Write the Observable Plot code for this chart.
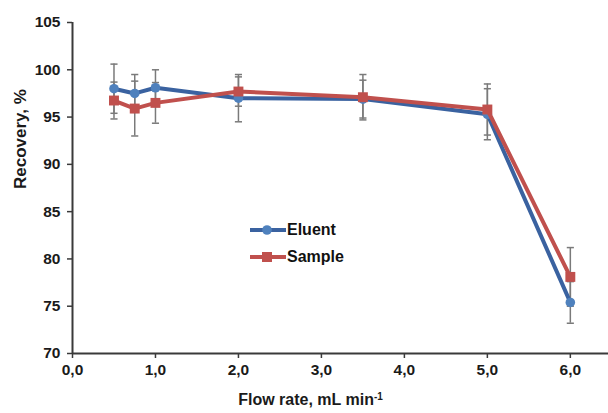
<!DOCTYPE html>
<html>
<head>
<meta charset="utf-8">
<script src="https://cdn.jsdelivr.net/npm/d3@7"></script>
<script src="https://cdn.jsdelivr.net/npm/@observablehq/plot@0.6"></script>
<style>
  html, body { margin: 0; padding: 0; background: #fff; }
  #wrap { position: relative; width: 608px; height: 413px; font-family: "Liberation Sans", Arial, sans-serif; }
  #legend { position: absolute; left: 250px; top: 216px; font-weight: bold; font-size: 16px; color: #111; }
  #legend .row { display: flex; align-items: center; height: 27px; }
  #legend svg { margin-right: 1px; }
</style>
</head>
<body>
<div id="wrap"><div id="chart"></div><div id="legend"></div></div>
<script>
const flowRate = [0.5, 0.75, 1.0, 2.0, 3.5, 5.0, 6.0];
const eluent = [98.0, 97.5, 98.1, 97.0, 96.9, 95.3, 75.4];
const eluentErr = [2.6, 2.0, 1.9, 2.5, 2.0, 2.7, 2.2];
const sample = [96.75, 95.9, 96.5, 97.7, 97.1, 95.8, 78.1];
const sampleErr = [1.95, 2.9, 2.15, 1.55, 2.4, 2.7, 3.1];
const xTicks = [0, 1, 2, 3, 4, 5, 6];
const yTicks = [70, 75, 80, 85, 90, 95, 100, 105];
const seriesNames = ["Eluent", "Sample"];
const lineColors = ["#3a62a0", "#c0504d"];
const markerColors = ["#4f81bd", "#c0504d"];

const rows = [];
flowRate.forEach((x, i) => {
  rows.push({series: "Eluent", x, y: eluent[i], e: eluentErr[i]});
  rows.push({series: "Sample", x, y: sample[i], e: sampleErr[i]});
});
const el = rows.filter(d => d.series === "Eluent");
const sa = rows.filter(d => d.series === "Sample");
const cap = 0.043;
const errColor = "#7a7a7a";
const axisColor = "#3a3a3a";
const fmtX = d => d.toFixed(1).replace(".", ",");

const chart = Plot.plot({
  width: 608,
  height: 413,
  marginLeft: 72,
  marginRight: 0,
  marginTop: 22,
  marginBottom: 60,
  style: {fontFamily: "Liberation Sans, Arial, sans-serif", fontSize: "15.5px", fontWeight: "bold", color: "#1a1a1a", background: "#fff"},
  x: {domain: [0, 6.46], label: null},
  y: {domain: [70, 105], label: null},
  marks: [
    Plot.axisX({ticks: xTicks, tickFormat: fmtX, tickSize: 5, tickPadding: 5, stroke: axisColor, strokeWidth: 1.5, fill: "#1a1a1a", label: null}),
    Plot.axisY({ticks: yTicks, tickSize: 5, tickPadding: 7, stroke: axisColor, strokeWidth: 1.5, fill: "#1a1a1a", label: null}),
    Plot.ruleY([70], {stroke: axisColor, strokeWidth: 2}),
    Plot.ruleX([0], {stroke: axisColor, strokeWidth: 2}),
    // error bars
    Plot.ruleX(rows, {x: "x", y1: d => d.y - d.e, y2: d => d.y + d.e, stroke: errColor, strokeWidth: 1.5}),
    Plot.link(rows, {x1: d => d.x - cap, x2: d => d.x + cap, y1: d => d.y + d.e, y2: d => d.y + d.e, stroke: errColor, strokeWidth: 1.5}),
    Plot.link(rows, {x1: d => d.x - cap, x2: d => d.x + cap, y1: d => d.y - d.e, y2: d => d.y - d.e, stroke: errColor, strokeWidth: 1.5}),
    // series
    Plot.line(el, {x: "x", y: "y", stroke: lineColors[0], strokeWidth: 4}),
    Plot.dot(el, {x: "x", y: "y", r: 4.8, fill: markerColors[0], stroke: "none", symbol: "circle"}),
    Plot.line(sa, {x: "x", y: "y", stroke: lineColors[1], strokeWidth: 4}),
    Plot.dot(sa, {x: "x", y: "y", r: 5.6, fill: markerColors[1], stroke: "none", symbol: "square"}),
    // axis titles
    Plot.text(["Recovery, %"], {frameAnchor: "left", dx: -52, dy: 1, rotate: -90, fontSize: 17, fontWeight: "bold", fill: "#1a1a1a"}),
    Plot.text(["Flow rate, mL min-1"], {frameAnchor: "bottom", dy: 51, dx: -30, fontSize: 16, fontWeight: "bold", fill: "#1a1a1a"})
  ]
});
document.getElementById("chart").append(chart);

// superscript in x title
d3.select(chart).selectAll("text").filter(function() { return this.textContent === "Flow rate, mL min-1"; })
  .each(function() {
    const t = d3.select(this);
    t.text(null);
    t.append("tspan").text("Flow rate, mL min");
    t.append("tspan").attr("dy", "-0.5em").attr("font-size", "10px").text("-1");
  });

// legend
const legend = d3.select("#legend");
seriesNames.forEach((name, i) => {
  const row = legend.append("div").attr("class", "row");
  const s = row.append("svg").attr("width", 36).attr("height", 14);
  s.append("line").attr("x1", 0).attr("x2", 36).attr("y1", 7).attr("y2", 7).attr("stroke", lineColors[i]).attr("stroke-width", 4);
  if (i === 0) s.append("circle").attr("cx", 17).attr("cy", 7).attr("r", 4.8).attr("fill", markerColors[i]);
  else s.append("rect").attr("x", 12).attr("y", 2).attr("width", 10).attr("height", 10).attr("fill", markerColors[i]);
  row.append("span").text(name);
});
</script>
</body>
</html>
